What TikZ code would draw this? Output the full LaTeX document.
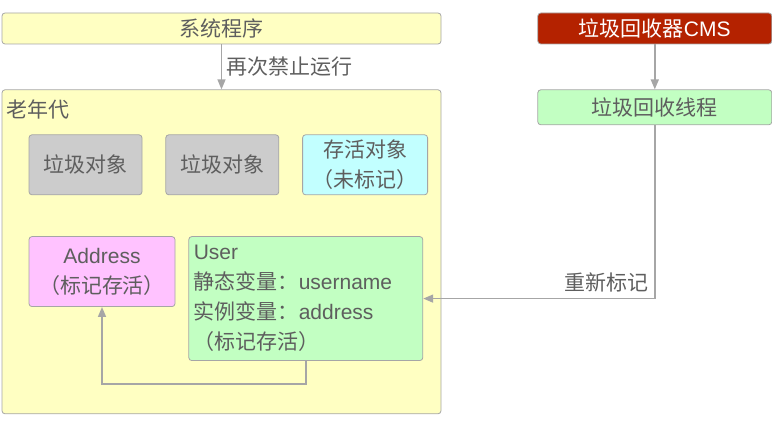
\documentclass[tikz,border=0pt]{standalone}
\usepackage{fontspec}
\setmainfont{Noto Sans CJK SC}
\newfontfamily\lat{Liberation Sans}
\usetikzlibrary{positioning, arrows.meta}
\definecolor{linegray}{HTML}{A6A6A6}
\definecolor{txtgray}{HTML}{5E5E5E}
\definecolor{boxyellow}{HTML}{FFFFC2}
\definecolor{cmsred}{HTML}{B42200}
\definecolor{aliveg}{HTML}{C2FFC2}
\definecolor{junkgray}{HTML}{CCCCCC}
\definecolor{livecyan}{HTML}{C2FFFF}
\definecolor{addrpink}{HTML}{FFC2FF}
\tikzset{
  box/.style={draw=linegray, rounded corners=3pt, line width=0.8pt, text=txtgray, align=center, inner sep=0pt},
  flow/.style={draw=linegray, line width=1.5pt, -{Triangle[length=10pt, width=8pt]}},
  lbl/.style={text=txtgray},
}

\begin{document}
\begin{tikzpicture}[font=\fontsize{21pt}{30pt}\selectfont]
\useasboundingbox (0,0) rectangle (772pt,-427pt);

\node (SYS) [box, fill=boxyellow, minimum width=439pt, minimum height=31pt] at (221.5pt,-28.5pt) {系统程序};
\node (CMS) [box, fill=cmsred, text=white, minimum width=234pt, minimum height=31pt, right=96pt of SYS] {垃圾回收器{\lat CMS}};
\node (THR) [box, fill=aliveg, minimum width=234pt, minimum height=35pt, below=45pt of CMS] {垃圾回收线程};

\node (OLD) [box, fill=boxyellow, minimum width=439pt, minimum height=324pt, below=45pt of SYS] {};
\node (OLDL) [lbl, anchor=west, inner sep=0pt] at ([shift={(5pt,-20pt)}]OLD.north west) {老年代};

\node (G1) [box, fill=junkgray, minimum width=113pt, minimum height=60pt, below right=45pt and 27pt of OLD.north west] {垃圾对象};
\node (G2) [box, fill=junkgray, minimum width=113pt, minimum height=60pt, right=23pt of G1] {垃圾对象};
\node (LIVE) [box, fill=livecyan, minimum width=125pt, minimum height=60pt, right=23pt of G2] {存活对象\\（未标记）};

\node (ADDR) [box, fill=addrpink, minimum width=146pt, minimum height=70pt, below right=41pt and 0pt of G1.south west] {{\lat Address}\\（标记存活）};
\node (USER) [box, fill=aliveg, align=left, text width=224pt, inner sep=5pt, minimum height=124pt, below right=0pt and 13pt of ADDR.north east] {{\lat User}\\静态变量：{\lat username}\\实例变量：{\lat address}\\（标记存活）};

\draw [flow] (SYS) -- (OLD) node [lbl, midway, right, inner sep=4pt] {再次禁止运行};
\draw [flow] (CMS) -- (THR);
\draw [flow] (THR.south) |- (USER.east) node [lbl, pos=0.5, above left, inner sep=6pt] {重新标记};
\draw [flow] (USER.south) -- ++(0,-23pt) -| (ADDR.south);

\end{tikzpicture}
\end{document}
